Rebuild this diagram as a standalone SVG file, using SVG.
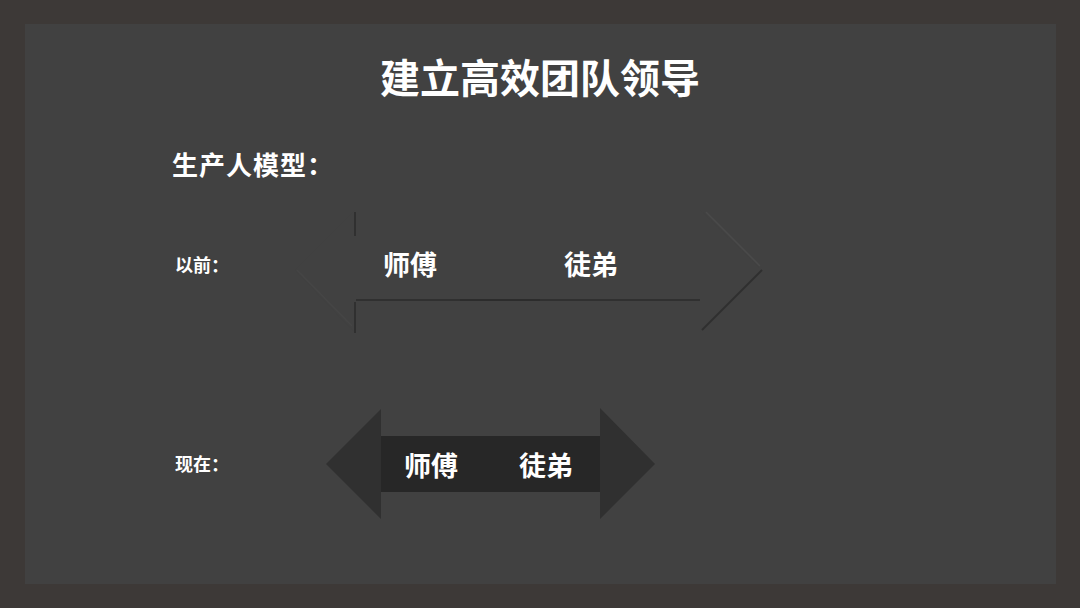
<svg xmlns="http://www.w3.org/2000/svg" width="1080" height="608" viewBox="0 0 1080 608">
<style>
text{font-family:"Noto Sans CJK SC","Liberation Sans",sans-serif;font-weight:bold;fill:#ffffff}
.edge{stroke:#2a2a2a;stroke-width:2;fill:none}
.hl{stroke:#4a4a4a;stroke-width:1.5;fill:none}
</style>
<rect x="0" y="0" width="1080" height="608" fill="#3d3937"/>
<rect x="25" y="24" width="1031" height="560" fill="#414141"/>
<text x="540" y="93" font-size="40" text-anchor="middle">建立高效团队领导</text>
<text x="172" y="175" font-size="26" letter-spacing="1">生产人模型：</text>
<g id="label-before"><text x="175" y="272" font-size="18">以前：</text></g>
<g id="label-now"><text x="175" y="471" font-size="18">现在：</text></g>
<g id="arrow-before">
<polygon points="295,270 355,210 355,240 700,240 700,210 762,270 700,332 700,300 355,300 355,333" fill="#414141"/>
<line class="edge" x1="355" y1="212" x2="355" y2="236" opacity="0.7"/>
<line class="edge" x1="355" y1="302" x2="355" y2="333" opacity="0.7"/>
<line class="edge" x1="356" y1="300" x2="700" y2="300" opacity="0.7"/>
<line class="edge" x1="460" y1="300" x2="540" y2="300" stroke-width="3" opacity="0.6"/>
<line class="edge" x1="762" y1="270" x2="702" y2="330" opacity="0.8"/>
<line class="hl" x1="706" y1="212" x2="760" y2="266"/>
<line class="hl" x1="297" y1="270" x2="352" y2="326" opacity="0.5"/>
<text x="383" y="275" font-size="27">师傅</text>
<text x="564" y="275" font-size="27">徒弟</text>
</g>
<g id="arrow-now">
<polygon points="326,464 381,409 381,436 600,436 600,408 655,464 600,519 600,492 381,492 381,519" fill="#303030"/>
<rect x="381" y="436" width="219" height="56" fill="#272727"/>
<text x="404" y="476" font-size="27">师傅</text>
<text x="519" y="476" font-size="27">徒弟</text>
</g>
</svg>
